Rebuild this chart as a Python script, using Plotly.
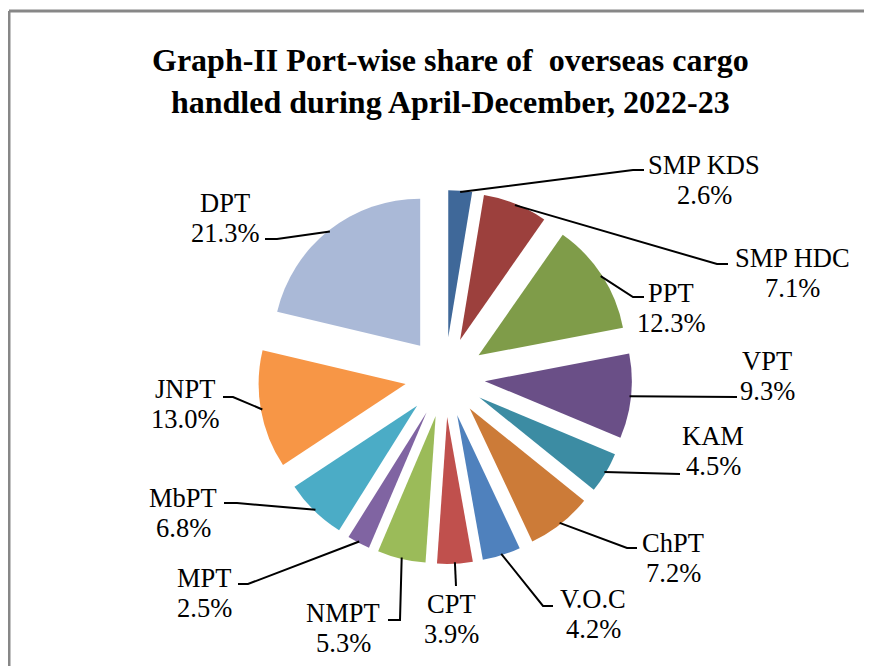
import math
import plotly.graph_objects as go

# ---------------- data ----------------
ports = ["SMP KDS", "SMP HDC", "PPT", "VPT", "KAM", "ChPT", "V.O.C",
         "CPT", "NMPT", "MPT", "MbPT", "JNPT", "DPT"]
shares = [2.6, 7.1, 12.3, 9.3, 4.5, 7.2, 4.2, 3.9, 5.3, 2.5, 6.8, 13.0, 21.3]
colors = ["#3F6899", "#9C403D", "#7F9C49", "#6A4F87", "#3C8CA3", "#CC7B38",
          "#4F81BD", "#C0504D", "#9BBB59", "#8064A2", "#4BACC6", "#F79646",
          "#AAB9D7"]
title_text = ("<b>Graph-II Port-wise share of \u00a0overseas cargo</b><br>"
              "<b>handled during April-December, 2022-23</b>")

# ---------------- layout constants (screen px) ----------------
OFF = 8                    # page body margin
W, H = 864, 658            # figure size
CX, CY = 445, 377          # pie centre (screen px)
R = 147                    # pie radius (px)
PULL_PX = 40               # explode distance (px)
pull = PULL_PX / R
half = R * (1 + pull)

# label block centres and leader-line elbow / end points (screen px)
label_pos = {
    "SMP KDS": (704, 180), "SMP HDC": (792, 273), "PPT": (671, 308),
    "VPT": (767, 376), "KAM": (713, 451), "ChPT": (673, 558),
    "V.O.C": (593, 614), "CPT": (452, 619), "NMPT": (343, 628),
    "MPT": (204, 593), "MbPT": (183, 513), "JNPT": (185, 404),
    "DPT": (225, 218),
}
leader_pts = {
    "SMP KDS": [(633, 170), (644, 170)],
    "SMP HDC": [(717, 264), (728, 264)],
    "PPT": [(633, 297), (644, 297)],
    "VPT": [(737, 397)],
    "KAM": [(680, 474)],
    "ChPT": [(627, 548), (637, 548)],
    "V.O.C": [(543, 606), (553, 606)],
    "CPT": [(456, 586)],
    "NMPT": [(400, 620), (388, 620)],
    "MPT": [(248, 584), (238, 584)],
    "MbPT": [(237, 503), (224, 503)],
    "JNPT": [(233, 397), (223, 397)],
    "DPT": [(277, 239), (265, 239)],
}


def px(x, y):
    return (x - OFF) / W, 1 - (y - OFF) / H


fig = go.Figure()
dx0, dy0 = px(CX - half, CY + half)
dx1, dy1 = px(CX + half, CY - half)
fig.add_trace(go.Pie(
    labels=ports, values=shares, sort=False, direction="clockwise",
    rotation=0, pull=[pull] * len(shares), textinfo="none",
    marker=dict(colors=colors, line=dict(width=0)),
    domain=dict(x=[dx0, dx1], y=[dy0, dy1]),
    showlegend=False, hoverinfo="label+percent",
))

shapes = []
annotations = []
total = sum(shares)
cum = 0.0
font = dict(family="Liberation Serif", size=26.5, color="#000000")
for name, val in zip(ports, shares):
    mid = (cum + val / 2) / total * 2 * math.pi
    cum += val
    ux, uy = math.sin(mid), -math.cos(mid)
    d = PULL_PX + R * 0.99
    sx, sy = CX + d * ux, CY + d * uy
    pts = [(sx, sy)] + leader_pts[name]
    path = "M " + " L ".join("%.5f,%.5f" % px(x, y) for x, y in pts)
    shapes.append(dict(type="path", xref="paper", yref="paper", path=path,
                       line=dict(color="#000000", width=2)))
    lx, ly = label_pos[name]
    pct = "%.1f%%" % val
    for txt, yy in ((name, ly - 15), (pct, ly + 15)):
        ax, ay = px(lx, yy)
        annotations.append(dict(text=txt, x=ax, y=ay, xref="paper", yref="paper",
                                xanchor="center", yanchor="middle",
                                showarrow=False, font=font))

# title
tx, ty = px(450, 81)
annotations.append(dict(text=title_text, x=tx, y=ty, xref="paper", yref="paper",
                        xanchor="center", yanchor="middle", showarrow=False,
                        font=dict(family="Liberation Serif", size=32,
                                  color="#000000")))

# outer chart border (top and left visible)
bx0, by0 = px(9, 11)
shapes.append(dict(type="line", xref="paper", yref="paper", x0=bx0, y0=by0,
                   x1=1.0, y1=by0, line=dict(color="#878787", width=3)))
shapes.append(dict(type="line", xref="paper", yref="paper", x0=bx0, y0=by0,
                   x1=bx0, y1=0.0, line=dict(color="#878787", width=3)))

fig.update_layout(
    width=W, height=H, margin=dict(l=0, r=0, t=0, b=0),
    paper_bgcolor="#FFFFFF", plot_bgcolor="#FFFFFF",
    shapes=shapes, annotations=annotations,
)
fig.write_html("out.html")
